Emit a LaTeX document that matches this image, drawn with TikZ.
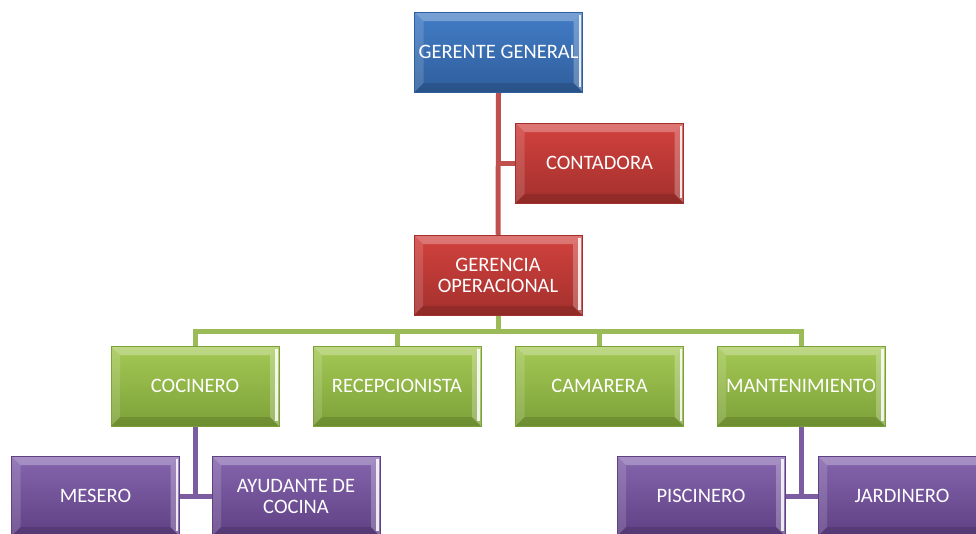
\documentclass[tikz,border=0pt]{standalone}
\usepackage{fontspec}
\setmainfont{Carlito}
\usetikzlibrary{backgrounds}
\definecolor{bluetop}{HTML}{437DC6}
\definecolor{bluebot}{HTML}{2F5E9C}
\definecolor{redtop}{HTML}{D2423E}
\definecolor{redbot}{HTML}{A3302D}
\definecolor{greentop}{HTML}{A5C955}
\definecolor{greenbot}{HTML}{7CA138}
\definecolor{purptop}{HTML}{8566AE}
\definecolor{purpbot}{HTML}{5F4084}
\definecolor{redline}{HTML}{C0504D}
\definecolor{greenline}{HTML}{9BBB59}
\definecolor{purpline}{HTML}{7B5CA0}
\tikzset{
  orgbox/.style 2 args={rectangle, minimum width=168pt, minimum height=80pt, inner sep=2pt,
    text=white, font=\fontsize{20.5}{21}\selectfont, align=center,
    top color=#1, bottom color=#2, draw=#2, line width=0.5pt,
    path picture={
      \coordinate (bNW) at (path picture bounding box.north west);
      \coordinate (bNE) at (path picture bounding box.north east);
      \coordinate (bSW) at (path picture bounding box.south west);
      \coordinate (bSE) at (path picture bounding box.south east);
      % bevel: light top and left faces, bright right rim, dark bottom face
      \fill[white, opacity=0.28] (bNW) -- (bNE) -- ([xshift=-9pt,yshift=-9pt]bNE) -- ([xshift=9pt,yshift=-9pt]bNW) -- cycle;
      \fill[white, opacity=0.14] (bNW) -- ([xshift=9pt,yshift=-9pt]bNW) -- ([xshift=9pt,yshift=9pt]bSW) -- (bSW) -- cycle;
      \fill[white, opacity=0.25] (bNE) -- (bSE) -- ([xshift=-9pt,yshift=9pt]bSE) -- ([xshift=-9pt,yshift=-9pt]bNE) -- cycle;
      \fill[white, opacity=0.85] ([xshift=-4pt,yshift=-3pt]bNE) rectangle ([xshift=-1.5pt,yshift=5pt]bSE);
      \fill[black, opacity=0.12] (bSW) -- (bSE) -- ([xshift=-9pt,yshift=9pt]bSE) -- ([xshift=9pt,yshift=9pt]bSW) -- cycle;
    }},
  link/.style={line width=5pt, draw=#1},
}
\begin{document}
\begin{tikzpicture}[x=1pt,y=-1pt]
\useasboundingbox (0,0) rectangle (976,533);
% top levels
\node[orgbox={bluetop}{bluebot}] (gg) at (498.5,52) {GERENTE GENERAL};
\node[orgbox={redtop}{redbot}] (ct) at (599.5,163) {CONTADORA};
\node[orgbox={redtop}{redbot}] (go) at (498,275) {GERENCIA\\OPERACIONAL};
% departments
\node[orgbox={greentop}{greenbot}] (coc) at (195,386) {COCINERO};
\node[orgbox={greentop}{greenbot}] (rec) at (397,386) {RECEPCIONISTA};
\node[orgbox={greentop}{greenbot}] (cam) at (599.5,386) {CAMARERA};
\node[orgbox={greentop}{greenbot}] (man) at (801,386) {MANTENIMIENTO};
% staff
\node[orgbox={purptop}{purpbot}] (mes) at (95.5,496) {MESERO};
\node[orgbox={purptop}{purpbot}] (ayu) at (296,496) {AYUDANTE DE\\COCINA};
\node[orgbox={purptop}{purpbot}] (pis) at (701,496) {PISCINERO};
\node[orgbox={purptop}{purpbot}] (jar) at (902,496) {JARDINERO};
\begin{pgfonlayer}{background}
  \draw[link=redline] (gg.south) -- (go.north);
  \draw[link=redline] (ct.west) -- (gg.south |- ct.west);
  \coordinate (bus) at (498,331);
  \draw[link=greenline] (go.south) -- (bus);
  \draw[link=greenline] (coc.north) |- (bus) -| (man.north);
  \draw[link=greenline] (rec.north) -- (rec.north |- bus);
  \draw[link=greenline] (cam.north) -- (cam.north |- bus);
  \draw[link=purpline] (coc.south) -- (coc.south |- mes.east);
  \draw[link=purpline] (mes.east) -- (ayu.west);
  \draw[link=purpline] (man.south) -- (man.south |- pis.east);
  \draw[link=purpline] (pis.east) -- (jar.west);
\end{pgfonlayer}
\end{tikzpicture}
\end{document}
